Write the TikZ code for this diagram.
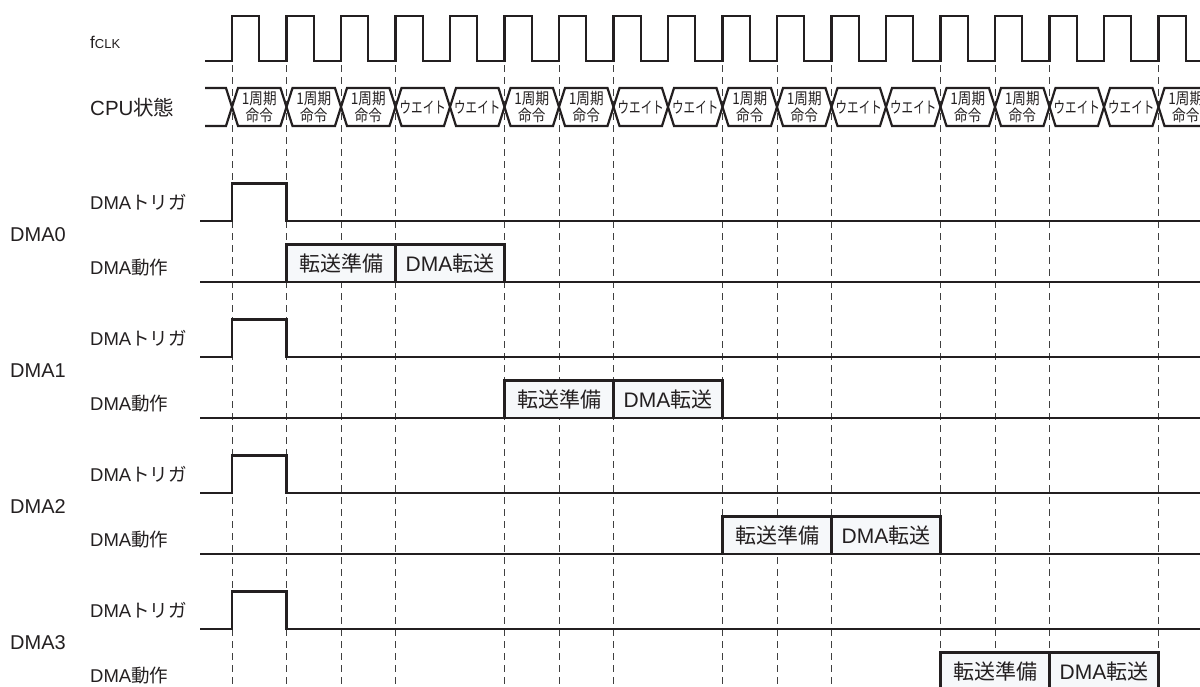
\documentclass[tikz,border=0pt]{standalone}
\usepackage{fontspec}
\usepackage{graphicx}
\setmainfont{Liberation Sans}
\newfontfamily\jp{Noto Sans CJK JP}
\definecolor{boxfill}{HTML}{F6F8FA}
\definecolor{ink}{HTML}{231F20}
\newcommand\cycTxt{\scalebox{0.85}[1]{\jp 1周期}\\\scalebox{0.85}[1]{\jp 命令}}
\newcommand\waitTxt{\scalebox{0.72}[1]{\jp ウエイト}}
\begin{document}
\begin{tikzpicture}[x=1pt,y=-1pt,
  sig/.style={line width=2.2pt, ink, line join=miter},
  gridline/.style={line width=1pt, black!75, dash pattern=on 7pt off 5pt},
  lbl/.style={anchor=west, inner sep=0pt, text=ink, font=\fontsize{18.5}{20}\selectfont},
  grp/.style={anchor=west, inner sep=0pt, text=ink, font=\fontsize{20}{22}\selectfont},
  cputxt/.style={inner sep=0pt, text=ink, align=center, font=\fontsize{16}{17}\selectfont},
  boxtxt/.style={inner sep=0pt, text=ink, font=\fontsize{21}{23}\selectfont},
  boxsty/.style={line width=2.2pt, draw=ink, fill=boxfill}
]
\useasboundingbox (0,0) rectangle (1200,686);
\clip (0,0) rectangle (1200,686);

% dashed guide lines
\foreach \k in {0,1,2,3,5,6,7,9,10,11,13,14,15,17}
  \draw[gridline] ({232+54.5*\k},65) -- ({232+54.5*\k},690);

% clock
\node[inner sep=0pt, anchor=base west, text=ink] (fclk) at (90,48)
  {{\fontsize{17}{18}\selectfont f}{\fontsize{13}{13}\selectfont CLK}};
\draw[sig] (205,61) foreach \k in {0,...,17} {
  -- ({232+54.5*\k},61) -- ({232+54.5*\k},16) -- ({259.25+54.5*\k},16) -- ({259.25+54.5*\k},61) } -- (1205,61);

% CPU state
\node[lbl, font=\fontsize{20.5}{22}\selectfont] (cpu) at (90,108) {CPU{\jp 状態}};
\draw[sig] (205,88) -- (226,88) -- (232,107) -- (226,126) -- (205,126);
\foreach \k/\t in {0/\cycTxt,1/\cycTxt,2/\cycTxt,3/\waitTxt,4/\waitTxt,5/\cycTxt,6/\cycTxt,7/\waitTxt,8/\waitTxt,9/\cycTxt,10/\cycTxt,11/\waitTxt,12/\waitTxt,13/\cycTxt,14/\cycTxt,15/\waitTxt,16/\waitTxt} {
  \pgfmathsetmacro\a{232+54.5*\k}
  \pgfmathsetmacro\b{\a+54.5}
  \pgfmathsetmacro\m{\a+27.25}
  \draw[sig] (\a,107) -- (\a+6,88) -- (\b-6,88) -- (\b,107) -- (\b-6,126) -- (\a+6,126) -- cycle;
  \node[cputxt] (st\k) at (\m,107) {\t};
}
\draw[sig] (1210,88) -- (1164.5,88) -- (1158.5,107) -- (1164.5,126) -- (1210,126);
\node[cputxt] (st17) at (1185.75,107) {\cycTxt};

% DMA channels
\foreach \g in {0,1,2,3} {
  \pgfmathsetmacro\yt{221+136*\g}
  \pgfmathsetmacro\yb{282+136*\g}
  \pgfmathsetmacro\pa{286.5+218*\g}
  \pgfmathsetmacro\pb{\pa+109}
  \pgfmathsetmacro\pc{\pb+109}
  \node[lbl] (trg\g) at (90,{202+136*\g}) {DMA{\jp トリガ}};
  \node[grp] (dma\g) at (10,{235+136*\g}) {DMA\g};
  \node[lbl] (act\g) at (90,{268+136*\g}) {DMA{\jp 動作}};
  \draw[sig] (200,\yt) -- (232,\yt) -- (232,\yt-37.5) -- (286.5,\yt-37.5) -- (286.5,\yt) -- (1205,\yt);
  \draw[sig] (200,\yb) -- (1205,\yb);
  \draw[boxsty] (\pa,\yb) rectangle (\pb,\yb-37.5);
  \draw[boxsty] (\pb,\yb) rectangle (\pc,\yb-37.5);
  \node[boxtxt] (prep\g) at ({(\pa+\pb)/2},\yb-18.5) {\jp 転送準備};
  \node[boxtxt] (xfer\g) at ({(\pb+\pc)/2},\yb-18.5) {DMA{\jp 転送}};
}
\end{tikzpicture}
\end{document}
